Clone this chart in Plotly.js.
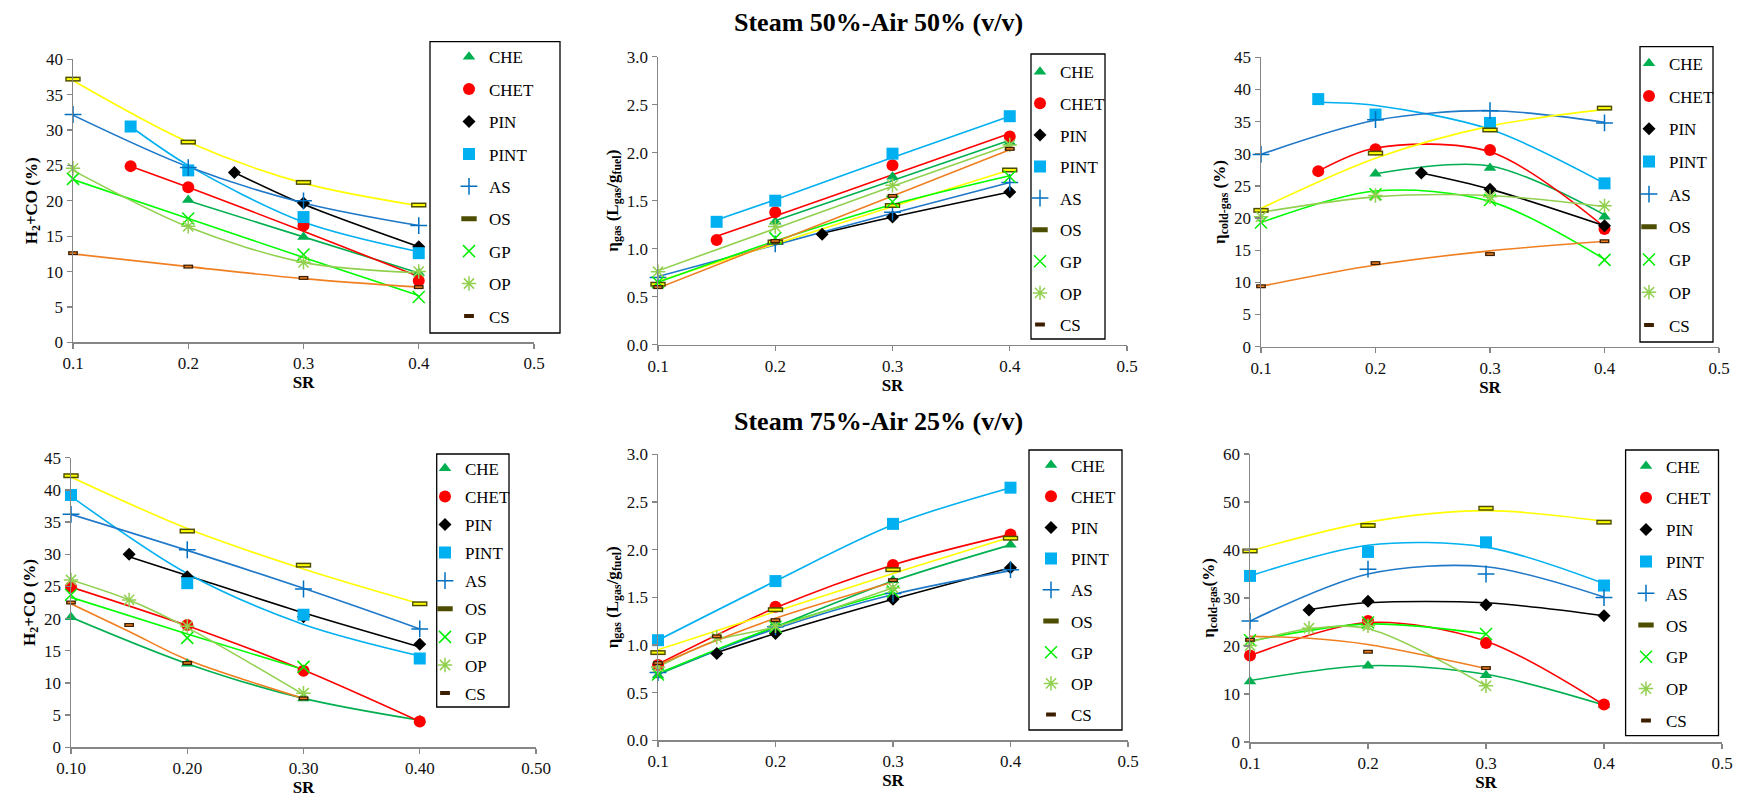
<!DOCTYPE html>
<html><head><meta charset="utf-8">
<script src="https://cdn.plot.ly/plotly-3.0.1.min.js"></script>
<style>html,body{margin:0;padding:0;background:#fff;}#chart{width:1742px;height:799px;}</style>
</head><body><div id="chart"></div>
<script>
// ---------- DATA ----------
const series = ['CHE', 'CHET', 'PIN', 'PINT', 'AS', 'OS', 'GP', 'OP', 'CS'];
const srTop = [0.10, 0.15, 0.20, 0.24, 0.30, 0.40];
const srBottom = [0.10, 0.15, 0.20, 0.30, 0.40];
const xTickLabelsTop = ['0.1', '0.2', '0.3', '0.4', '0.5'];
const xTickLabelsH2co75 = ['0.10', '0.20', '0.30', '0.40', '0.50'];
const rowTitles = ['Steam 50%-Air 50% (v/v)', 'Steam 75%-Air 25% (v/v)'];

// Steam 50%-Air 50%: measured points (rows follow `series`, columns follow srTop)
const h2co_50 = [
  [null, null, 20.1, null, 14.9, 9.8],
  [null, 24.9, 21.9, null, 16.5, 8.7],
  [null, null, null, 24.0, 19.7, 13.5],
  [null, 30.5, 24.3, null, 17.7, 12.6],
  [32.2, null, 24.7, null, 20.0, 16.5],
  [37.2, null, 28.3, null, 22.6, 19.4],
  [23.1, null, 17.5, null, 12.4, 6.4],
  [24.6, null, 16.4, null, 11.3, 10.0],
  [12.6, null, 10.7, null, 9.1, 7.8]
];
const etaGas_50 = [
  [null, null, 1.28, null, 1.75, 2.11],
  [null, 1.09, 1.38, null, 1.87, 2.17],
  [null, null, null, 1.15, 1.33, 1.59],
  [null, 1.28, 1.50, null, 1.99, 2.38],
  [0.70, null, 1.05, null, 1.38, 1.69],
  [0.63, null, 1.07, null, 1.45, 1.82],
  [0.65, null, 1.11, null, 1.49, 1.75],
  [0.76, null, 1.23, null, 1.66, 2.08],
  [0.60, null, 1.08, null, 1.55, 2.04]
];
const etaCold_50 = [
  [null, null, 26.9, null, 27.8, 20.2],
  [null, 27.3, 30.7, null, 30.6, 18.3],
  [null, null, null, 27.0, 24.5, 18.8],
  [null, 38.5, 36.1, null, 34.8, 25.4],
  [29.9, null, 35.3, null, 36.7, 34.8],
  [21.2, null, 30.1, null, 33.7, 37.1],
  [19.3, null, 23.7, null, 22.8, 13.5],
  [20.2, null, 23.5, null, 23.3, 21.9],
  [9.4, null, 13.0, null, 14.4, 16.4]
];
// Steam 50%-Air 50%: trend-line values at the same SR
const trendH2co_50 = [
  [null, null, 20.0, null, 14.9, 9.8],
  [null, 24.9, 21.9, null, 15.7, 9.3],
  [null, null, null, 24.0, 19.5, 13.5],
  [null, 30.5, 25.0, null, 17.0, 12.8],
  [32.1, null, 24.8, null, 19.7, 16.5],
  [37.0, null, 28.3, null, 22.5, 19.3],
  [23.0, null, 17.5, null, 12.0, 6.6],
  [24.3, null, 16.3, null, 11.3, 9.8],
  [12.5, null, 10.7, null, 9.0, 7.8]
];
const trendEtaGas_50 = [
  [null, null, 1.29, null, 1.71, 2.13],
  [null, 1.13, 1.34, null, 1.77, 2.20],
  [null, null, null, 1.16, 1.33, 1.59],
  [null, 1.30, 1.51, null, 1.95, 2.38],
  [0.71, null, 1.04, null, 1.37, 1.69],
  [0.66, null, 1.05, null, 1.44, 1.82],
  [0.65, null, 1.08, null, 1.46, 1.76],
  [0.77, null, 1.21, null, 1.65, 2.08],
  [0.59, null, 1.07, null, 1.55, 2.03]
];
const trendEtaCold_50 = [
  [null, null, 26.9, null, 28.1, 20.5],
  [null, 27.3, 30.9, null, 30.3, 18.6],
  [null, null, null, 27.0, 24.5, 18.8],
  [null, 38.0, 37.5, null, 33.8, 25.4],
  [29.9, null, 35.2, null, 36.7, 34.9],
  [21.5, null, 29.3, null, 34.3, 36.9],
  [19.3, null, 24.2, null, 22.6, 13.6],
  [20.9, null, 23.3, null, 23.5, 21.8],
  [9.4, null, 12.7, null, 14.9, 16.4]
];

// Steam 75%-Air 25%: measured points (rows follow `series`, columns follow srBottom)
const h2co_75 = [
  [20.2, null, 13.0, 7.6, 4.2],
  [24.9, null, 19.0, 11.9, 4.0],
  [null, 30.0, 26.5, 20.3, 16.0],
  [39.2, null, 25.5, 20.6, 13.8],
  [36.2, null, 30.7, 24.6, 18.4],
  [42.2, null, 33.6, 28.3, 22.3],
  [23.7, null, 17.0, 12.5, null],
  [26.0, 22.9, 18.8, 8.4, null],
  [22.5, 19.0, 13.1, 7.6, null]
];
const etaGas_75 = [
  [0.68, null, 1.23, 1.68, 2.05],
  [0.79, null, 1.40, 1.84, 2.16],
  [null, 0.91, 1.12, 1.48, 1.81],
  [1.05, null, 1.67, 2.27, 2.65],
  [0.71, null, 1.19, 1.54, 1.79],
  [0.92, null, 1.37, 1.79, 2.12],
  [0.69, null, 1.19, 1.56, null],
  [0.77, 1.08, 1.20, 1.60, null],
  [0.81, 1.09, 1.26, 1.68, null]
];
const etaCold_75 = [
  [12.6, null, 15.9, 13.9, 7.7],
  [18.0, null, 25.2, 20.6, 7.8],
  [null, 27.5, 29.3, 28.6, 26.3],
  [34.6, null, 39.6, 41.6, 32.6],
  [25.2, null, 36.0, 35.0, 30.1],
  [39.8, null, 45.1, 48.7, 45.8],
  [21.2, null, 24.9, 22.5, null],
  [20.1, 23.7, 24.2, 11.7, null],
  [21.3, null, 18.8, 15.4, null]
];
// Steam 75%-Air 25%: trend-line values at the same SR
const trendH2co_75 = [
  [20.2, null, 13.0, 7.6, 4.2],
  [24.9, null, 18.9, 12.0, 4.0],
  [null, 29.6, 26.7, 20.9, 15.6],
  [39.0, null, 27.0, 19.1, 14.2],
  [36.2, null, 30.6, 24.7, 18.4],
  [42.0, null, 34.0, 27.7, 22.3],
  [23.3, null, 17.6, 12.1, null],
  [26.0, 22.9, 18.6, 8.2, null],
  [22.3, 18.0, 13.6, 7.6, null]
];
const trendEtaGas_75 = [
  [0.69, null, 1.19, 1.67, 2.05],
  [0.80, null, 1.39, 1.84, 2.16],
  [null, 0.92, 1.12, 1.48, 1.81],
  [1.05, null, 1.67, 2.26, 2.65],
  [0.70, null, 1.17, 1.53, 1.78],
  [0.95, null, 1.35, 1.75, 2.13],
  [0.70, null, 1.19, 1.56, null],
  [0.77, 1.05, 1.19, 1.60, null],
  [0.79, 1.05, 1.28, 1.66, null]
];
const trendEtaCold_75 = [
  [12.8, null, 15.9, 14.1, 7.7],
  [18.0, null, 24.9, 21.0, 7.7],
  [null, 27.6, 29.0, 29.0, 26.3],
  [34.6, null, 41.0, 40.6, 33.0],
  [25.2, null, 35.0, 36.5, 30.2],
  [39.8, null, 45.8, 48.2, 46.0],
  [21.0, null, 24.6, 22.5, null],
  [20.8, 23.6, 23.6, 11.7, null],
  [22.0, 21.6, 20.3, 15.3, null]
];

// ---------- STYLE ----------
const W = 1742, H = 799;
const FONT = 'Liberation Serif, Times New Roman, serif';
const fx = v => v / W, fy = v => 1 - v / H;
const lineColors = {CHE:'#00B050', CHET:'#FF0000', PIN:'#000000', PINT:'#00B0F0', AS:'#1F78C8',
  OS:'#FFFF00', GP:'#00FF00', OP:'#92D050', CS:'#F07F22'};
const markers = {
  CHE: [{symbol:'triangle-up', size:11, color:'#00B050'}],
  CHET:[{symbol:'circle', size:12, color:'#FF0000'}],
  PIN: [{symbol:'diamond', size:10, color:'#000000'}],
  PINT:[{symbol:'square', size:12, color:'#00B0F0'}],
  AS:  [{symbol:'cross-thin-open', size:12, color:'#0070C0', line:{color:'#0070C0', width:1.5}}],
  OS:  [{symbol:'line-ew-open', size:11, color:'#4D4D00', line:{color:'#4D4D00', width:5}},
        {symbol:'line-ew-open', size:9, color:'#FFFF00', line:{color:'#FFFF00', width:2}}],
  GP:  [{symbol:'x-thin-open', size:12, color:'#00EE00', line:{color:'#00EE00', width:1.5}}],
  OP:  [{symbol:'asterisk-open', size:12, color:'#92D050', line:{color:'#92D050', width:1.5}}],
  CS:  [{symbol:'line-ew-open', size:7, color:'#3D1F00', line:{color:'#3D1F00', width:4}},
        {symbol:'line-ew-open', size:5, color:'#F07F22', line:{color:'#F07F22', width:1.5}}]
};

const panels = [
  {data:h2co_50, trend:trendH2co_50, sr:srTop, ymax:40, dtick:5, yfmt:'d', xlabels:xTickLabelsTop,
   ytitle:'H<sub>2</sub>+CO (%)', px:[73,534], py:[59.3,342.3],
   box:[430,41.7,560,333], leg:[469,56.7,32.4]},
  {data:etaGas_50, trend:trendEtaGas_50, sr:srTop, ymax:3, dtick:0.5, yfmt:'.1f', xlabels:xTickLabelsTop,
   ytitle:'η<sub>gas</sub> (L<sub>gas</sub>/g<sub>fuel</sub>)', px:[658,1127], py:[56.7,344.7],
   box:[1031,54,1105,339], leg:[1040,71.7,31.6]},
  {data:etaCold_50, trend:trendEtaCold_50, sr:srTop, ymax:45, dtick:5, yfmt:'d', xlabels:xTickLabelsTop,
   ytitle:'η<sub>cold-gas</sub> (%)', px:[1261,1719], py:[57.3,346.7],
   box:[1640,46.7,1713,342], leg:[1649,63.3,32.7]},
  {data:h2co_75, trend:trendH2co_75, sr:srBottom, ymax:45, dtick:5, yfmt:'d', xlabels:xTickLabelsH2co75,
   ytitle:'H<sub>2</sub>+CO (%)', px:[71,536], py:[457.7,747.3],
   box:[436.7,454,509,707], leg:[445,468.3,28.1]},
  {data:etaGas_75, trend:trendEtaGas_75, sr:srBottom, ymax:3, dtick:0.5, yfmt:'.1f', xlabels:xTickLabelsTop,
   ytitle:'η<sub>gas</sub> (L<sub>gas</sub>/g<sub>fuel</sub>)', px:[658,1128], py:[454.3,740.3],
   box:[1029,450,1122,730], leg:[1051,465,31.2]},
  {data:etaCold_75, trend:trendEtaCold_75, sr:srBottom, ymax:60, dtick:10, yfmt:'d', xlabels:xTickLabelsTop,
   ytitle:'η<sub>cold-gas</sub>(%)', px:[1250,1722], py:[454,742],
   box:[1625.6,450,1718.5,735.7], leg:[1646,466,31.8]}
];

const traces = [];
const layout = {
  width: W, height: H, margin:{l:0, r:0, t:0, b:0, pad:0},
  paper_bgcolor:'#fff', plot_bgcolor:'#fff', showlegend:true,
  font:{family:FONT, color:'#000'},
  shapes: [], annotations: []
};
const LEGEND_FS = 17;
const itemH = Math.max(LEGEND_FS * 1.3, 16) + 3;

panels.forEach((p, i) => {
  const n = i === 0 ? '' : String(i + 1);
  const xa = 'x' + n, ya = 'y' + n, lg = 'legend' + n;
  series.forEach((s, k) => {
    traces.push({x:p.sr, y:p.trend[k], xaxis:xa, yaxis:ya, mode:'lines', connectgaps:true,
      line:{color:lineColors[s], width:1.6, shape:'spline', smoothing:0.9},
      showlegend:false, hoverinfo:'skip', cliponaxis:false, legend:lg});
  });
  series.forEach((s, k) => {
    markers[s].forEach((m, j) => {
      traces.push({x:p.sr, y:p.data[k], xaxis:xa, yaxis:ya, mode:'markers', name:s,
        marker:m, showlegend:j === 0, legend:lg, legendgroup:'p' + i + s, cliponaxis:false});
    });
  });
  layout['xaxis' + n] = {
    domain:[fx(p.px[0]), fx(p.px[1])], anchor:ya, range:[0.1, 0.5],
    tickmode:'array', tickvals:[0.1,0.2,0.3,0.4,0.5], ticktext:p.xlabels,
    ticks:'outside', ticklen:5, tickwidth:1.3, tickcolor:'#868686',
    showline:true, linecolor:'#868686', linewidth:1.5, showgrid:false, zeroline:false,
    tickfont:{family:FONT, size:17, color:'#111'}, automargin:false, fixedrange:true,
    title:{text:'SR', font:{family:FONT, size:17, weight:'bold', color:'#000'}, standoff:2}
  };
  layout['yaxis' + n] = {
    domain:[fy(p.py[1]), fy(p.py[0])], anchor:xa, range:[0, p.ymax],
    dtick:p.dtick, tick0:0, tickformat:p.yfmt,
    ticks:'outside', ticklen:5, tickwidth:1.3, tickcolor:'#868686',
    showline:true, linecolor:'#868686', linewidth:1.5, showgrid:false, zeroline:false,
    tickfont:{family:FONT, size:17, color:'#111'}, automargin:false, fixedrange:true,
    title:{text:p.ytitle, font:{family:FONT, size:17, weight:'bold', color:'#000'}, standoff:4}
  };
  layout.shapes.push({type:'rect', xref:'paper', yref:'paper',
    x0:fx(p.box[0]), x1:fx(p.box[2]), y0:fy(p.box[3]), y1:fy(p.box[1]),
    line:{color:'#000', width:1.3}, fillcolor:'#fff', layer:'above'});
  const gap = Math.max(p.leg[2] - itemH, 0);
  layout[lg] = {
    x:fx(p.leg[0] - 20), y:fy(p.leg[1] - 17.55), xanchor:'left', yanchor:'top',
    xref:'paper', yref:'paper', bgcolor:'rgba(0,0,0,0)', borderwidth:0,
    font:{family:FONT, size:LEGEND_FS, color:'#000'}, tracegroupgap:gap,
    traceorder:'grouped', itemwidth:30, itemclick:false, itemdoubleclick:false
  };
});

layout.annotations.push(
  {text:'<b>' + rowTitles[0] + '</b>', xref:'paper', yref:'paper', x:fx(878), y:fy(22),
   showarrow:false, xanchor:'center', yanchor:'middle', font:{family:FONT, size:26, color:'#000'}},
  {text:'<b>' + rowTitles[1] + '</b>', xref:'paper', yref:'paper', x:fx(878), y:fy(421),
   showarrow:false, xanchor:'center', yanchor:'middle', font:{family:FONT, size:26, color:'#000'}}
);

Plotly.newPlot('chart', traces, layout, {staticPlot:true, displayModeBar:false});
</script>
</body></html>
